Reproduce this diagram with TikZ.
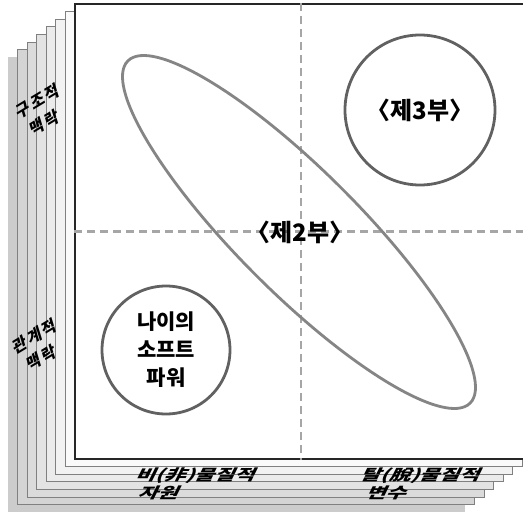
\documentclass[tikz,border=0pt]{standalone}
\usepackage{fontspec}
\usepackage{xcolor}
\usepackage{tikz}
\setmainfont{Noto Sans CJK KR}
\newfontfamily\widefont[LetterSpace=14]{Noto Sans CJK KR}
\usetikzlibrary{shapes.geometric}

\begin{document}
\begin{tikzpicture}[
      x=1pt, y=-1pt,
      sheet/.style={draw=black!50, line width=0.8pt, minimum width=457pt, minimum height=455pt,
                    inner sep=0pt},
      front/.style={sheet, fill=white, draw=black!85, line width=1.4pt},
      guide/.style={draw=black!35, line width=2.4pt, dash pattern=on 8pt off 5pt},
      ring/.style={circle, draw=black!62, line width=2.8pt, align=center},
      oval/.style={ellipse, draw=black!48, line width=2.8pt, minimum width=484pt,
                   minimum height=122pt, rotate=-45},
      part/.style={font=\fontsize{24}{28}\selectfont\bfseries},
      side/.style={font=\widefont\fontsize{16}{22}\selectfont\bfseries, align=center,
                   rotate=31, xslant=0.25, transform shape},
      base/.style={font=\fontsize{15}{18}\selectfont\bfseries, align=left, anchor=west,
                   xslant=0.5, xscale=1.45, transform shape},
    ]
    \useasboundingbox (0,0) rectangle (523,514);

    % pages behind
    \node[sheet, fill=black!20, draw=none] (p7) at (236.3,284.7) {};
    \node[sheet, fill=black!17] (p6) at (245.9,277.1) {};
    \node[sheet, fill=black!14] (p5) at (255.5,269.5) {};
    \node[sheet, fill=black!11] (p4) at (265.1,261.9) {};
    \node[sheet, fill=black!8] (p3) at (274.7,254.3) {};
    \node[sheet, fill=black!5] (p2) at (284.3,246.7) {};
    \node[sheet, fill=black!2] (p1) at (293.9,239.1) {};

    % front page
    \node[front] (main) at (303.5,231.5) {};

    % axes
    \draw[guide] ([xshift=-2.5pt]main.north) -- ([xshift=-2.5pt]main.south);
    \draw[guide] (main.west) -- (main.east);

    % part 2
    \node[oval] (band) at (299,232) {};
    \node[part] (p2txt) at (300,232) {〈제2부〉};

    % part 3
    \node[ring, part, minimum size=150pt] (p3c) at (420,110) {〈제3부〉};

    % soft power
    \node[ring, minimum size=128pt, font=\fontsize{21}{28}\selectfont\bfseries] (soft)
         at (166,350) {나이의\\소프트\\파워};

    % side labels
    \node[side] (struct) at (41,112) {구조적\\맥락};
    \node[side] (relat) at (38,347) {관계적\\맥락};

    % bottom labels
    \node[base] (nonmat) at (128,484) {비(非)물질적\\\hspace*{8pt}자원};
    \node[base] (postmat) at (353,484) {탈(脫)물질적\\\hspace*{10pt}변수};

  \end{tikzpicture}
\end{document}
